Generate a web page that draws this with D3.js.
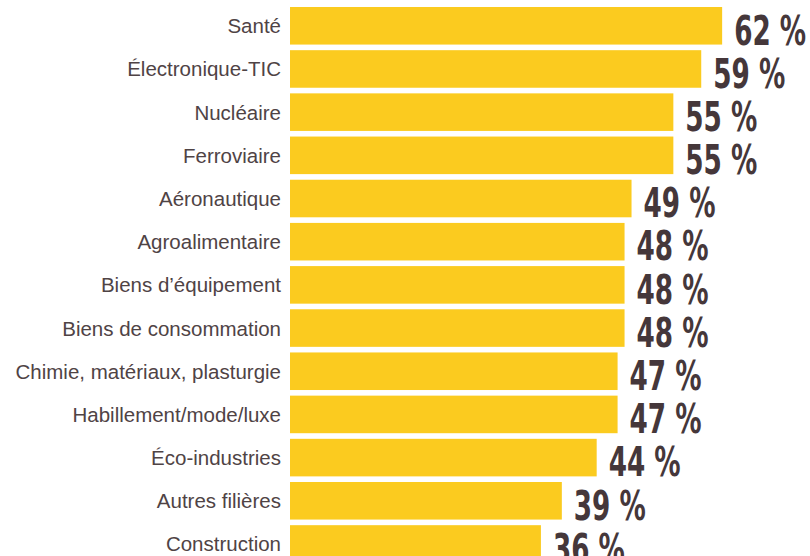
<!DOCTYPE html>
<html>
<head>
<meta charset="utf-8">
<script src="https://cdn.jsdelivr.net/npm/d3@7"></script>
<style>
  body { margin: 0; background: #fff; }
  .cat { font-family: "Liberation Sans", Arial, sans-serif; font-size: 20.5px; fill: #4f4345; }
  .val { font-family: "DejaVu Sans", sans-serif; font-stretch: condensed; font-weight: bold; font-size: 41px; fill: #45373a; }
</style>
</head>
<body>
<div id="chart"></div>
<script>
// filières and share of values (%)
var categories = ["Santé", "Électronique-TIC", "Nucléaire", "Ferroviaire", "Aéronautique",
  "Agroalimentaire", "Biens d’équipement", "Biens de consommation",
  "Chimie, matériaux, plasturgie", "Habillement/mode/luxe", "Éco-industries",
  "Autres filières", "Construction"];
var values = [62, 59, 55, 55, 49, 48, 48, 48, 47, 47, 44, 39, 36];

var width = 810, height = 556;
var labelWidth = 72;                       // target width of the squeezed "62 %" labels

var svg = d3.select("#chart").append("svg")
    .attr("width", width)
    .attr("height", height);

var x = d3.scaleLinear()
    .domain([0, 100])
    .range([290, 987]);

var y = d3.scaleBand()
    .domain(categories)
    .range([7, 7 + 13 * 42.75])
    .paddingInner(0.13)
    .paddingOuter(0);

var rows = svg.selectAll("g.row")
    .data(categories)
    .enter().append("g")
    .attr("class", "row");

rows.append("rect")                       // the yellow bars
    .attr("x", x(0))
    .attr("y", function (d) { return y(d); })
    .attr("width", function (d, i) { return x(values[i]) - x(0); })
    .attr("height", y.bandwidth())
    .attr("fill", "#fbcb1f");

rows.append("text")                       // category names on the left
    .attr("class", "cat")
    .attr("x", x(0) - 9)
    .attr("y", function (d) { return y(d) + y.bandwidth() / 2 + 7.5; })
    .attr("text-anchor", "end")
    .text(function (d) { return d; });

rows.append("text")                       // big percentages after the bar
    .attr("class", "val")
    .text(function (d, i) { return values[i] + " %"; })
    .attr("transform", function (d, i) {
        var k = labelWidth / this.getComputedTextLength();   // squeeze to look like a condensed face
        return "translate(" + (x(values[i]) + 12) + "," + (y(d) + y.bandwidth()) + ") scale(" + k + ",1)";
    });
</script>
</body>
</html>
